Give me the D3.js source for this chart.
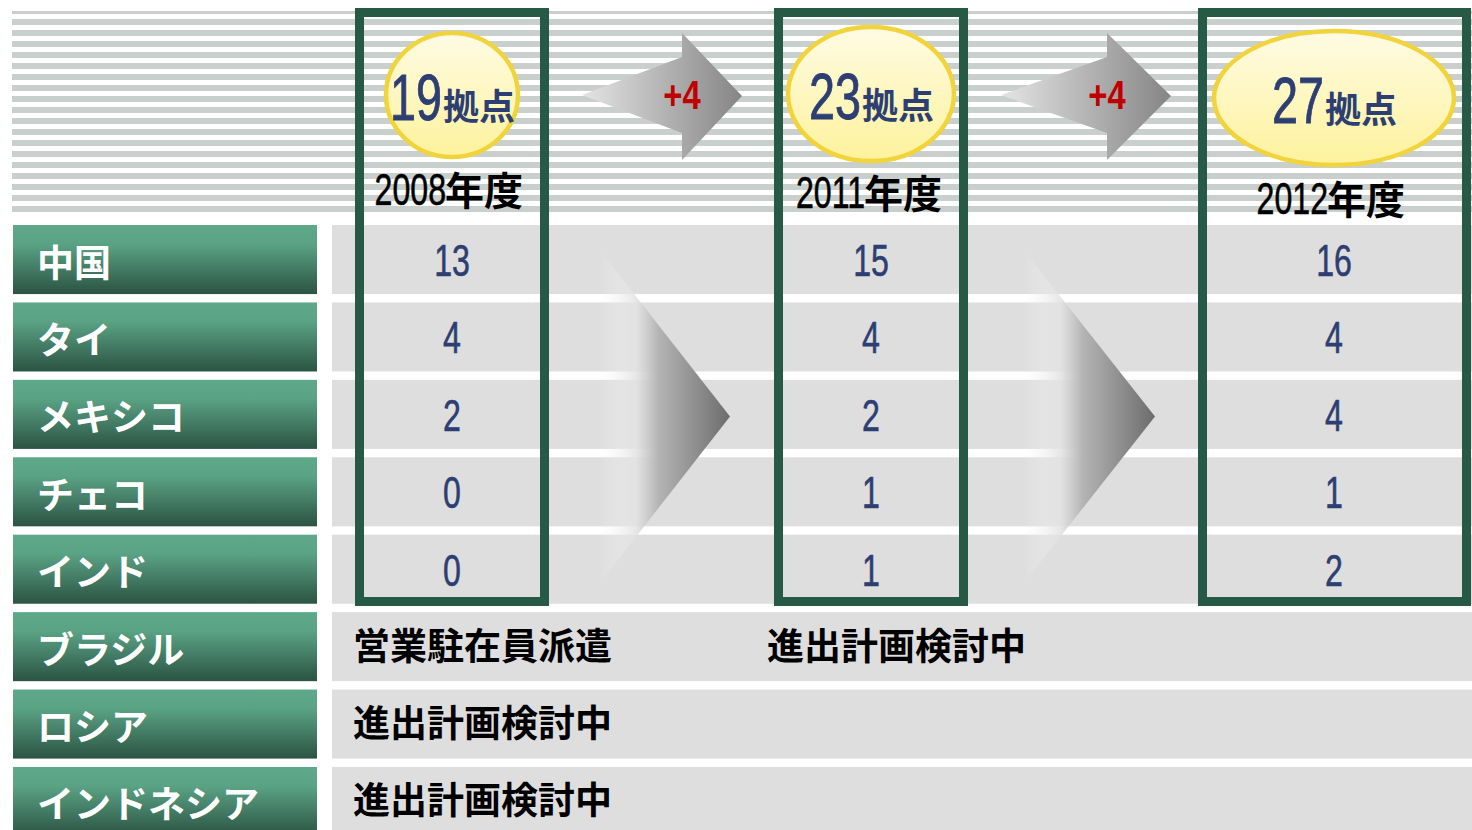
<!DOCTYPE html>
<html>
<head>
<meta charset="utf-8">
<script src="https://cdn.jsdelivr.net/npm/d3@7"></script>
<style>
  body { margin: 0; background: #fff; }
  svg { display: block; }
  .jp { font-family: "Noto Sans CJK JP", sans-serif; font-weight: 700; }
  .num { font-family: "Liberation Sans", Arial, sans-serif; }
</style>
</head>
<body>
<div id="chart"></div>
<script>
'use strict';

// data
const countries = ['中国', 'タイ', 'メキシコ', 'チェコ', 'インド', 'ブラジル', 'ロシア', 'インドネシア'];
const years = ['2008年度', '2011年度', '2012年度'];
const totals = [19, 23, 27];
const increments = ['+4', '+4'];
const countedCountries = ['中国', 'タイ', 'メキシコ', 'チェコ', 'インド'];
const counts2008 = [13, 4, 2, 0, 0];
const counts2011 = [15, 4, 2, 1, 1];
const counts2012 = [16, 4, 4, 1, 2];
const noteCountries = ['ブラジル', 'ブラジル', 'ロシア', 'インドネシア'];
const noteYears = ['2008年度', '2011年度', '2008年度', '2008年度'];
const noteTexts = ['営業駐在員派遣', '進出計画検討中', '進出計画検討中', '進出計画検討中'];

const W = 1472, H = 830;
const NARROW = 0.73; // horizontal squeeze for the narrow digit font

const svg = d3.select('#chart').append('svg')
    .attr('width', W)
    .attr('height', H);

const defs = svg.append('defs');

// label gradient
const gLabel = defs.append('linearGradient').attr('id', 'labelGrad')
    .attr('x1', 0).attr('y1', 0).attr('x2', 0).attr('y2', 1);
gLabel.append('stop').attr('offset', 0).attr('stop-color', '#5ea989');
gLabel.append('stop').attr('offset', 0.28).attr('stop-color', '#5aa284');
gLabel.append('stop').attr('offset', 1).attr('stop-color', '#2b5343');

// ellipse gradient
const gEll = defs.append('linearGradient').attr('id', 'ellGrad')
    .attr('x1', 0).attr('y1', 0).attr('x2', 0).attr('y2', 1);
gEll.append('stop').attr('offset', 0).attr('stop-color', '#fffbe4');
gEll.append('stop').attr('offset', 1).attr('stop-color', '#fdf29c');

// small arrow gradient
const gArr = defs.append('linearGradient').attr('id', 'arrGrad')
    .attr('x1', 0).attr('y1', 0).attr('x2', 1).attr('y2', 0);
gArr.append('stop').attr('offset', 0).attr('stop-color', '#e4e4e4');
gArr.append('stop').attr('offset', 1).attr('stop-color', '#858585');

// big chevron gradient (fades out to the left)
const gChev = defs.append('linearGradient').attr('id', 'chevGrad')
    .attr('x1', 0).attr('y1', 0).attr('x2', 1).attr('y2', 0);
gChev.append('stop').attr('offset', 0).attr('stop-color', '#f4f4f4').attr('stop-opacity', 0);
gChev.append('stop').attr('offset', 0.28).attr('stop-color', '#e2e2e2').attr('stop-opacity', 0.85);
gChev.append('stop').attr('offset', 0.45).attr('stop-color', '#b4b4b4').attr('stop-opacity', 1);
gChev.append('stop').attr('offset', 1).attr('stop-color', '#6c6c6c').attr('stop-opacity', 1);

// scales
const y = d3.scaleBand().domain(countries).range([225, 836]).paddingInner(0.108);
const x = d3.scaleOrdinal().domain(years).range([452, 871, 1334]);
const boxLeft = d3.scaleOrdinal().domain(years).range([355, 774, 1198]);
const boxRight = d3.scaleOrdinal().domain(years).range([549, 968, 1471]);
const noteX = d3.scaleOrdinal().domain(years).range([353, 767, 1215]);
const ellRx = d3.scaleOrdinal().domain(years).range([66, 83, 120]);
const ellRy = d3.scaleOrdinal().domain(years).range([62, 67, 67]);
const ellCy = d3.scaleOrdinal().domain(years).range([95, 94, 98]);
const yearY = d3.scaleOrdinal().domain(years).range([189, 192, 198]);

const narrow = (px, py) => `translate(${px},${py}) scale(${NARROW},1)`;

// striped header band
const stripeTop = 11, stripeBottom = 212;
defs.append('clipPath').attr('id', 'stripeClip')
    .append('rect').attr('x', 12).attr('y', stripeTop).attr('width', W - 12).attr('height', stripeBottom - stripeTop);
svg.append('g').attr('clip-path', 'url(#stripeClip)')
    .selectAll('rect')
    .data(d3.range(19))
    .join('rect')
    .attr('x', 12)
    .attr('y', k => 8 + 11 * k)
    .attr('width', W - 12)
    .attr('height', 6)
    .attr('fill', '#c8cfcc');

// grey rows
svg.append('g').selectAll('rect')
    .data(countries)
    .join('rect')
    .attr('x', 332)
    .attr('y', d => y(d))
    .attr('width', W - 332)
    .attr('height', y.bandwidth())
    .attr('fill', '#dedede');

// row labels
const labels = svg.append('g').selectAll('g')
    .data(countries)
    .join('g');
labels.append('rect')
    .attr('x', 13)
    .attr('y', d => y(d))
    .attr('width', 304)
    .attr('height', y.bandwidth())
    .attr('fill', 'url(#labelGrad)');
labels.append('text')
    .attr('class', 'jp')
    .attr('x', 37)
    .attr('y', d => y(d) + y.bandwidth() / 2 + 1)
    .attr('dominant-baseline', 'central')
    .attr('font-size', 37)
    .attr('fill', '#fff')
    .text(d => d);

// big fading chevrons between columns
const chevX = d3.scaleOrdinal().domain([0, 1]).range([[600, 730], [1024, 1155]]);
const chevTop = y('タイ') - 52, chevBottom = y('インド') + y.bandwidth() - 21;
svg.append('g').selectAll('path')
    .data([0, 1])
    .join('path')
    .attr('d', i => {
        const [x0, x1] = chevX(i);
        const mid = (chevTop + chevBottom) / 2;
        return `M${x0},${chevTop} L${x1},${mid} L${x0},${chevBottom} Z`;
    })
    .attr('fill', 'url(#chevGrad)');

// counts
const countSeries = [counts2008, counts2011, counts2012];
years.forEach((yr, j) => {
    svg.append('g').selectAll('text')
        .data(countSeries[j])
        .join('text')
        .attr('class', 'num')
        .attr('transform', (d, i) => narrow(x(yr), y(countedCountries[i]) + y.bandwidth() / 2 + 16.5))
        .attr('text-anchor', 'middle')
        .attr('font-size', 44)
        .attr('fill', '#2d3e72')
        .attr('stroke', '#2d3e72')
        .attr('stroke-width', 0.6)
        .text(d => d);
});

// notes
svg.append('g').selectAll('text')
    .data(noteTexts)
    .join('text')
    .attr('class', 'jp')
    .attr('x', (d, i) => noteX(noteYears[i]))
    .attr('y', (d, i) => y(noteCountries[i]) + y.bandwidth() / 2 - 3)
    .attr('dominant-baseline', 'central')
    .attr('font-size', 37)
    .attr('fill', '#000')
    .text(d => d);

// top arrows with increments
const arrX = d3.scaleOrdinal().domain([0, 1]).range([[582, 682, 742], [1001, 1107, 1171]]);
const arrCy = 95;
const arrows = svg.append('g').selectAll('g')
    .data(increments)
    .join('g');
arrows.append('path')
    .attr('d', (d, i) => {
        const [a, b, c] = arrX(i);
        return `M${a},${arrCy} L${b},${arrCy - 38} L${b},${arrCy - 62} L${c},${arrCy + 1} L${b},${arrCy + 65} L${b},${arrCy + 38} Z`;
    })
    .attr('fill', 'url(#arrGrad)');
arrows.append('text')
    .attr('class', 'num')
    .attr('transform', (d, i) => `translate(${arrX(i)[1]},${arrCy + 14}) scale(0.82,1)`)
    .attr('text-anchor', 'middle')
    .attr('font-size', 40)
    .attr('font-weight', 700)
    .attr('fill', '#c00000')
    .text(d => d);

// column boxes, ellipses and year labels
const cols = svg.append('g').selectAll('g')
    .data(years)
    .join('g');
cols.append('rect')
    .attr('x', d => boxLeft(d) + 4.5)
    .attr('y', 12.5)
    .attr('width', d => boxRight(d) - boxLeft(d) - 9)
    .attr('height', 589)
    .attr('fill', 'none')
    .attr('stroke', '#265a47')
    .attr('stroke-width', 9);
cols.append('ellipse')
    .attr('cx', d => x(d))
    .attr('cy', d => ellCy(d))
    .attr('rx', d => ellRx(d))
    .attr('ry', d => ellRy(d))
    .attr('fill', 'url(#ellGrad)')
    .attr('stroke', '#f1d33c')
    .attr('stroke-width', 4.5);
// total count in the ellipse: narrow number + 拠点
cols.append('text')
    .attr('class', 'num')
    .attr('transform', d => narrow(x(d) - 10, ellCy(d) + 25))
    .attr('text-anchor', 'end')
    .attr('font-size', 64)
    .attr('fill', '#2d3e72')
    .attr('stroke', '#2d3e72')
    .attr('stroke-width', 0.9)
    .text((d, i) => totals[i]);
cols.append('text')
    .attr('class', 'jp')
    .attr('x', d => x(d) - 9)
    .attr('y', d => ellCy(d) + 25)
    .attr('font-size', 36)
    .attr('fill', '#2d3e72')
    .text('拠点');
// year label: narrow digits + 年度
cols.append('text')
    .attr('class', 'num')
    .attr('transform', d => narrow(x(d) - 6, yearY(d) + 16))
    .attr('text-anchor', 'end')
    .attr('font-size', 44)
    .attr('fill', '#000')
    .attr('stroke', '#000')
    .attr('stroke-width', 0.6)
    .text(d => d.replace('年度', ''));
cols.append('text')
    .attr('class', 'jp')
    .attr('x', d => x(d) - 7)
    .attr('y', d => yearY(d) + 16)
    .attr('font-size', 39)
    .attr('fill', '#000')
    .text('年度');
</script>
</body>
</html>
